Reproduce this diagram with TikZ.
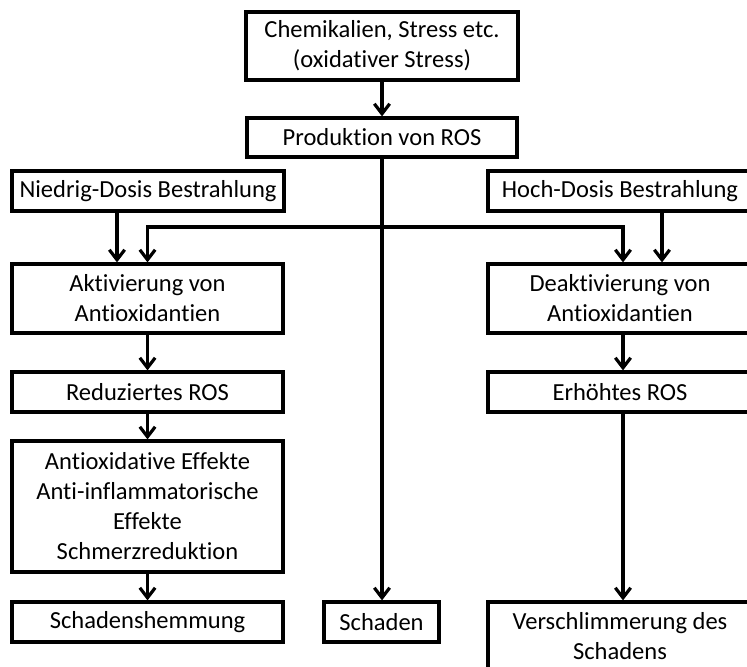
\documentclass[tikz,border=0pt]{standalone}
\usepackage{fontspec}
\setmainfont{Carlito}[Ligatures=NoCommon]
\usetikzlibrary{arrows.meta}

\begin{document}
\begin{tikzpicture}[x=0.75pt, y=-0.75pt,
  box/.style={draw=black, line width=2.4pt, fill=white, rectangle, inner sep=0pt,
    align=center, font=\fontsize{18.4pt}{22.5pt}\selectfont},
  link/.style={draw=black, line width=2.4pt},
  arr/.style={link, -{Straight Barb[length=7.5pt,width=11.5pt,line width=2.4pt]}}]

  \useasboundingbox (0,0) rectangle (747,667);
  \clip (0,0) rectangle (747,667);

  % cause and ROS production
  \node[box, minimum width=204pt, minimum height=51pt] (chem) at (382,46)
    {Chemikalien, Stress etc.\\(oxidativer Stress)};
  \node[box, minimum width=202.5pt, minimum height=29.25pt] (prod) at (382,137.5)
    {Produktion von ROS};

  % radiation doses
  \node[box, minimum width=204pt, minimum height=30pt] (low) at (148,191)
    {Niedrig-Dosis Bestrahlung};
  \node[box, minimum width=198pt, minimum height=30pt] (high) at (620,191)
    {Hoch-Dosis Bestrahlung};

  % low-dose branch
  \node[box, minimum width=203.25pt, minimum height=51.75pt] (akt) at (147.5,298.5)
    {Aktivierung von\\Antioxidantien};
  \node[box, minimum width=203.25pt, minimum height=30pt] (red) at (147.5,392)
    {Reduziertes ROS};
  \node[box, minimum width=203.25pt, minimum height=98.25pt] (antiox) at (147.5,506.5)
    {Antioxidative Effekte\\Anti-inflammatorische\\Effekte\\Schmerzreduktion};
  \node[box, minimum width=203.25pt, minimum height=30pt] (hemm) at (147.5,622)
    {Schadenshemmung};

  % direct damage
  \node[box, minimum width=86.25pt, minimum height=30pt] (schaden) at (381.5,622)
    {Schaden};

  % high-dose branch
  \node[box, minimum width=198pt, minimum height=51.75pt] (deakt) at (620,298.5)
    {Deaktivierung von\\Antioxidantien};
  \node[box, minimum width=198pt, minimum height=30pt] (erh) at (620,392)
    {Erhöhtes ROS};
  \node[box, minimum width=198pt, minimum height=51pt] (versch) at (620,636)
    {Verschlimmerung des\\Schadens};

  % connector columns and the distribution bar
  \coordinate (xl) at (117,0);
  \coordinate (xr) at (623,0);
  \coordinate (xh) at (662,0);
  \coordinate (bar) at (382,227);

  \draw[arr] (chem) -- (prod);
  \draw[arr] (prod.south) -- (prod.south |- schaden.north);

  \draw[arr] (bar) -| (akt.north);
  \draw[arr] (bar) -| (xr |- deakt.north);
  \draw[arr] (low.south -| xl) -- (akt.north -| xl);
  \draw[arr] (high.south -| xh) -- (deakt.north -| xh);

  \draw[arr] (akt) -- (red);
  \draw[arr] (red) -- (antiox);
  \draw[arr] (antiox) -- (hemm);

  \draw[arr] (deakt.south -| xr) -- (erh.north -| xr);
  \draw[arr] (erh.south -| xr) -- (versch.north -| xr);
\end{tikzpicture}
\end{document}
